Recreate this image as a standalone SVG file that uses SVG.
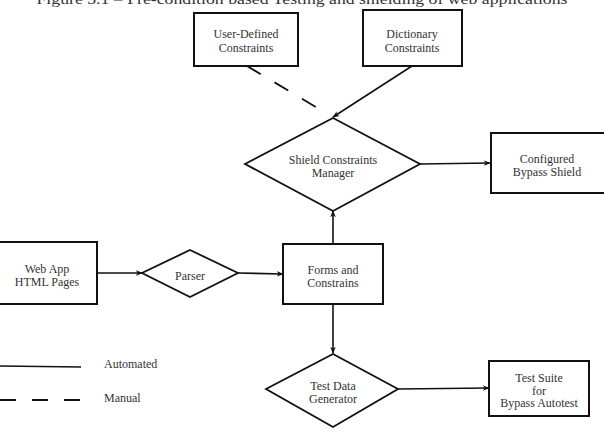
<svg xmlns="http://www.w3.org/2000/svg" width="604" height="435" viewBox="0 0 604 435">
<defs>
<marker id="arr" viewBox="0 0 10 10" refX="9" refY="5" markerWidth="7" markerHeight="7" orient="auto" markerUnits="userSpaceOnUse">
<path d="M0,1 L10,5 L0,9 L3,5 Z" fill="#111"/>
</marker>
</defs>
<style>
.box{fill:#fff;stroke:#111;stroke-width:2}
.dia{fill:#fff;stroke:#111;stroke-width:1.8}
.t{font-size:12px;fill:#333;text-anchor:middle}
.lg{font-size:12px;fill:#333}
.c{fill:none;stroke:#111;stroke-width:1.6}
.d{fill:none;stroke:#111;stroke-width:1.8;stroke-dasharray:16 16}
</style>
<rect width="604" height="435" fill="#fff"/>
<text x="302" y="4" font-family="Liberation Serif, Times New Roman, serif" font-size="15.5" fill="#333" text-anchor="middle" textLength="531" lengthAdjust="spacingAndGlyphs">Figure 3.1 – Pre-condition based Testing and shielding of web applications</text>

<g id="connectors">
<line class="d" x1="247" y1="66" x2="326" y2="113"/>
<line class="c" x1="412" y1="66" x2="333" y2="117" marker-end="url(#arr)"/>
<line class="c" x1="420" y1="164" x2="490" y2="163" marker-end="url(#arr)"/>
<line class="c" x1="97" y1="273" x2="142" y2="273" marker-end="url(#arr)"/>
<line class="c" x1="238" y1="273" x2="283" y2="274" marker-end="url(#arr)"/>
<line class="c" x1="333" y1="244" x2="333" y2="211" marker-end="url(#arr)"/>
<line class="c" x1="333" y1="304" x2="333" y2="353" marker-end="url(#arr)"/>
<line class="c" x1="398" y1="389" x2="489" y2="388" marker-end="url(#arr)"/>
</g>

<g font-family="Liberation Serif, Times New Roman, serif">
<g id="user-defined">
<rect class="box" x="194" y="13" width="104" height="53"/>
<text class="t" x="246" y="38">User-Defined</text>
<text class="t" x="246" y="52">Constraints</text>
</g>
<g id="dictionary">
<rect class="box" x="363" y="10" width="99" height="56"/>
<text class="t" x="412" y="38">Dictionary</text>
<text class="t" x="412" y="52">Constraints</text>
</g>
<g id="shield-manager">
<polygon class="dia" points="333,118 420,164 333,211 245,164"/>
<text class="t" x="333" y="164">Shield Constraints</text>
<text class="t" x="333" y="177">Manager</text>
</g>
<g id="configured-shield">
<rect class="box" x="491" y="133" width="116" height="60"/>
<text class="t" x="547" y="163">Configured</text>
<text class="t" x="547" y="176">Bypass Shield</text>
</g>
<g id="web-app">
<rect class="box" x="-3" y="242" width="100" height="62"/>
<text class="t" x="47" y="273">Web App</text>
<text class="t" x="47" y="286">HTML Pages</text>
</g>
<g id="parser">
<polygon class="dia" points="190,250 238,273 190,297 142,273"/>
<text class="t" x="190" y="280">Parser</text>
</g>
<g id="forms">
<rect class="box" x="283" y="244" width="100" height="60"/>
<text class="t" x="333" y="274">Forms and</text>
<text class="t" x="333" y="287">Constrains</text>
</g>
<g id="test-data">
<polygon class="dia" points="333,354 398,389 333,427 266,389"/>
<text class="t" x="333" y="390">Test Data</text>
<text class="t" x="333" y="403">Generator</text>
</g>
<g id="test-suite">
<rect class="box" x="489" y="361" width="100" height="55"/>
<text class="t" x="539" y="382">Test Suite</text>
<text class="t" x="539" y="394.5">for</text>
<text class="t" x="539" y="407">Bypass Autotest</text>
</g>
<g id="legend">
<line class="c" x1="0" y1="366" x2="81" y2="367"/>
<text class="lg" x="104" y="368">Automated</text>
<line class="d" x1="0" y1="400" x2="81" y2="400"/>
<text class="lg" x="104" y="402">Manual</text>
</g>
</g>
</svg>
